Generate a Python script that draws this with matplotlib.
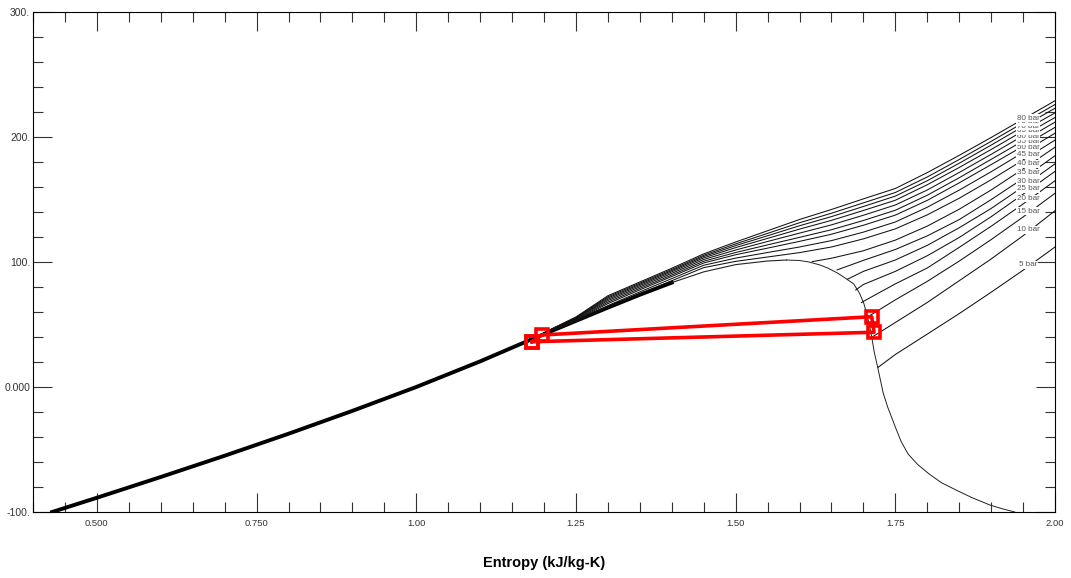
import matplotlib
matplotlib.use("Agg")
import matplotlib.pyplot as plt
import numpy as np
from matplotlib.ticker import MultipleLocator

plt.rcParams["font.family"] = ["Liberation Sans", "DejaVu Sans"]

# saturated liquid / vapour lines (s in kJ/kg-K, T in degC)
LIQ_S = [0.43, 0.50, 0.60, 0.70, 0.80, 0.90, 1.00, 1.10, 1.178, 1.25, 1.30,
         1.35, 1.40, 1.45, 1.50, 1.55, 1.58]
LIQ_T = [-100, -88.6, -72.0, -55.0, -37.4, -19.1, 0, 20.5, 37.6, 52.9, 63.5,
         73.8, 83.5, 92.1, 97.9, 100.8, 101.6]
VAP_S = [1.58, 1.60, 1.615, 1.632, 1.645, 1.66, 1.672, 1.685, 1.694, 1.701,
         1.707, 1.712, 1.717, 1.723, 1.731, 1.738, 1.750, 1.759, 1.770, 1.785,
         1.803, 1.822, 1.845, 1.870, 1.898, 1.918, 1.937]
VAP_T = [101.6, 101.2, 100, 97.6, 95, 91, 87, 82.4, 75, 66.4,
         55, 43.2, 28, 14.4, -4.8, -16, -32, -43.5, -53.6, -62,
         -69.6, -76.5, -82.4, -88.5, -94.4, -97.5, -100]

# isobars: vapour / supercritical branch on a shared entropy grid
NAN = float("nan")
GRID_S = [1.20, 1.25, 1.30, 1.35, 1.40, 1.45, 1.50, 1.55, 1.60, 1.65, 1.70,
          1.75, 1.80, 1.85, 1.90, 1.95, 2.00]
PRESSURES = [5, 10, 15, 20, 25, 30, 35, 40, 45, 50, 55, 60, 65, 70, 75, 80, 85]
START_S = [1.723, 1.712, 1.704, 1.697, 1.688, 1.675, 1.659, 1.62,
           NAN, NAN, NAN, NAN, NAN, NAN, NAN, NAN, NAN]
START_T = [15.7, 39.4, 55.2, 67.5, 77.6, 86.2, 93.7, 100.3,
           NAN, NAN, NAN, NAN, NAN, NAN, NAN, NAN, NAN]
ISOBAR_T = [
    [NAN] * 11 + [26, 42.3, 58.7, 75.8, 93.4, 112],
    [NAN] * 11 + [51.6, 67.6, 85, 102.4, 121, 141],
    [NAN] * 11 + [69.7, 84.5, 100.7, 117.9, 136, 155],
    [NAN] * 10 + [68.5, 82.5, 95.2, 111.7, 128.6, 146.4, 165],
    [NAN] * 10 + [82, 92.5, 105, 119.6, 136.2, 154.2, 172.5],
    [NAN] * 10 + [92.5, 101.6, 113.3, 127.4, 142.8, 160.2, 178.5],
    [NAN] * 10 + [101.3, 110, 120.9, 133.9, 149.9, 166.8, 185],
    [NAN] * 9 + [103, 109, 117.5, 128.7, 142.2, 157.6, 174.4, 191.8],
    [42.6, 52.5, 63.5, 74.5, 85.0, 95.5, 100.5, 104.0, 107.5, 112.0, 118.5, 126.5, 137.7, 151.0, 165.8, 181.6, 197.5],
    [42.8, 53.1, 65.1, 76.1, 86.7, 97.4, 103.1, 107.6, 112.0, 117.1, 123.9, 132.0, 143.8, 157.5, 172.2, 187.6, 203.0],
    [42.9, 53.7, 66.7, 77.7, 88.4, 99.2, 105.8, 111.1, 116.5, 122.2, 129.4, 137.5, 149.3, 163.3, 177.9, 192.7, 207.7],
    [43.0, 54.1, 67.9, 78.9, 89.6, 100.6, 107.6, 113.7, 119.7, 125.8, 133.2, 141.4, 153.4, 167.4, 182.1, 196.9, 211.9],
    [43.1, 54.6, 69.1, 80.1, 90.9, 102.0, 109.6, 116.4, 123.1, 129.7, 137.4, 145.6, 157.6, 171.6, 186.1, 201.0, 215.6],
    [43.2, 55.0, 70.2, 81.2, 92.1, 103.3, 111.5, 118.9, 126.3, 133.3, 141.2, 149.4, 161.8, 175.6, 190.0, 204.8, 219.3],
    [43.3, 55.3, 71.2, 82.2, 93.1, 104.4, 113.1, 121.0, 129.0, 136.3, 144.4, 152.7, 165.0, 179.0, 193.5, 208.4, 223.0],
    [43.4, 55.7, 72.1, 83.1, 94.0, 105.4, 114.5, 122.9, 131.4, 139.0, 147.3, 155.6, 168.0, 182.0, 196.5, 211.3, 226.0],
    [43.5, 56.0, 73.0, 84.0, 95.0, 106.5, 116.0, 125.0, 134.0, 142.0, 150.5, 158.8, 171.5, 185.3, 199.6, 214.3, 229.0],
]
LABELLED = [5, 10, 15, 20, 25, 30, 35, 40, 45, 50, 55, 60, 65, 70, 75, 80]

# refrigeration cycle state points
CYCLE_S = [1.181, 1.1965, 1.713, 1.7167, 1.181]
CYCLE_T = [36.2, 41.6, 56.2, 43.8, 36.2]

XTICKS = [0.5, 0.75, 1.0, 1.25, 1.5, 1.75, 2.0]
XTICK_LABELS = ["0.500", "0.750", "1.00", "1.25", "1.50", "1.75", "2.00"]
YTICKS = [-100, 0, 100, 200, 300]
YTICK_LABELS = ["-100.", "0.000", "100.", "200.", "300."]


fig = plt.figure(figsize=(10.71, 5.78), dpi=100)
ax = fig.add_axes([33 / 1071, 66 / 578, 1022 / 1071, 500 / 578])

# compressed-liquid isobars pile up on the saturated liquid line -> thick band
ax.plot(LIQ_S[:13], LIQ_T[:13], color="black", linewidth=2.8,
        solid_joinstyle="round", zorder=2)
ax.plot(LIQ_S[12:], LIQ_T[12:], color="#222222", linewidth=0.8, zorder=2)
ax.plot(VAP_S, VAP_T, color="#222222", linewidth=0.7, zorder=2)

grid = np.array(GRID_S)
for p, s0, t0, row in zip(PRESSURES, START_S, START_T, ISOBAR_T):
    row = np.array(row, dtype=float)
    ok = ~np.isnan(row)
    s = grid[ok]
    t = row[ok]
    if not np.isnan(s0):
        s = np.concatenate([[s0], s])
        t = np.concatenate([[t0], t])
    ax.plot(s, t, color="#111111", linewidth=0.75, zorder=2)
    if p in LABELLED:
        sl = 1.958
        ax.text(sl, np.interp(sl, s, t) + 1.5, f"{p} bar", fontsize=5.8,
                color="#555555", ha="center", va="center", zorder=3,
                bbox=dict(boxstyle="square,pad=0.05", fc="white", ec="none"))

ax.plot(CYCLE_S, CYCLE_T, color="#ff0000", linewidth=2.6, marker="s",
        markersize=9, markerfacecolor="none", markeredgecolor="#ff0000",
        markeredgewidth=2.6, zorder=5)

ax.set_xlim(0.4, 2.0)
ax.set_ylim(-100, 300)
ax.set_xticks(XTICKS)
ax.set_xticklabels(XTICK_LABELS)
ax.set_yticks(YTICKS)
ax.set_yticklabels(YTICK_LABELS)
ax.xaxis.set_minor_locator(MultipleLocator(0.05))
ax.yaxis.set_minor_locator(MultipleLocator(20))
ax.tick_params(which="both", direction="in", top=True, right=True,
               color="#333333", width=0.8)
ax.tick_params(which="major", length=14)
ax.tick_params(which="minor", length=7)
ax.tick_params(axis="x", labelsize=6.8, pad=5, labelcolor="#333333")
ax.tick_params(axis="y", labelsize=7.5, pad=2, labelcolor="#333333")
for sp in ax.spines.values():
    sp.set_linewidth(0.8)

ax.set_xlabel("Entropy (kJ/kg-K)", fontsize=10.5, fontweight="bold", va="center")
ax.xaxis.set_label_coords(0.5, -0.102)

fig.savefig("out.png", dpi=100)
